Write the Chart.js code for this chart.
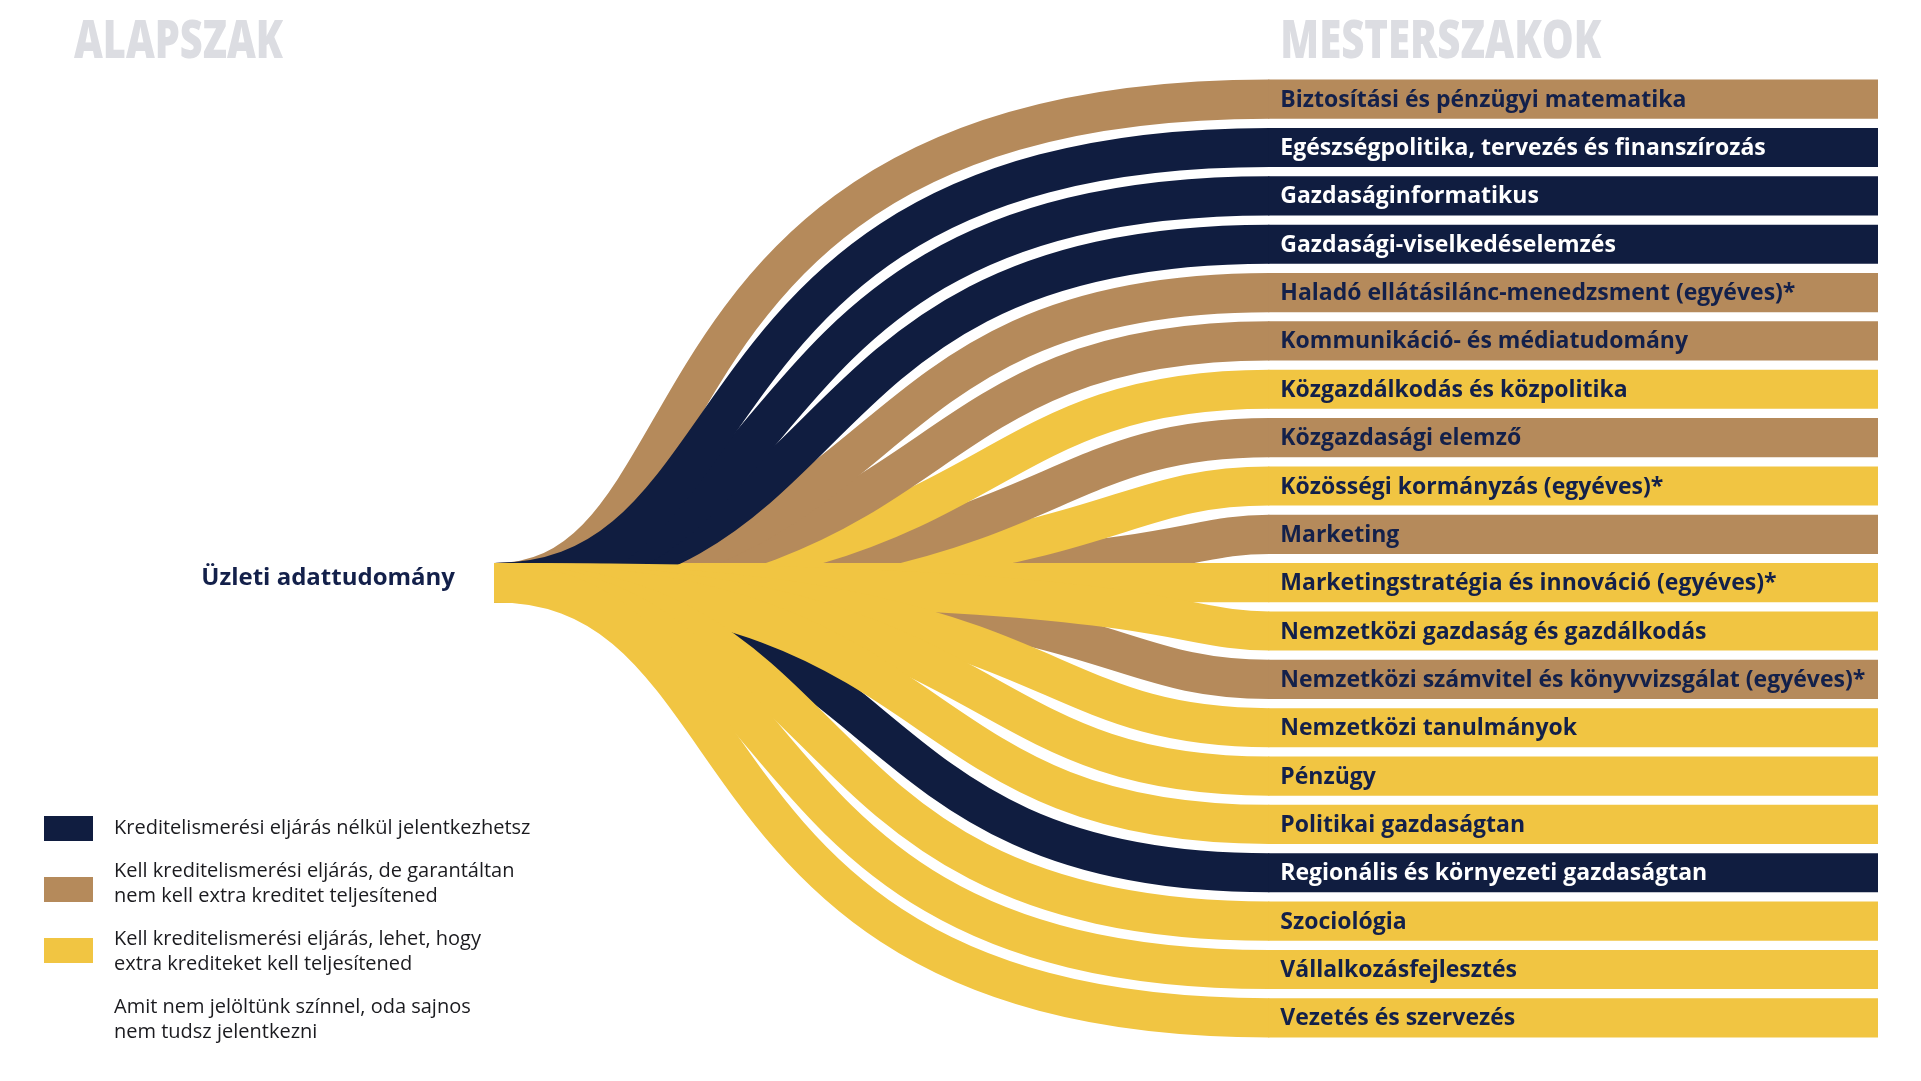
<!DOCTYPE html>
<html lang="hu">
<head>
<meta charset="utf-8">
<title>Alapszak – mesterszakok</title>
<script src="https://cdn.jsdelivr.net/npm/chart.js@4.4.1/dist/chart.umd.min.js"></script>
<style>
  html, body { margin: 0; padding: 0; background: #fff; }
  #wrap { width: 1921px; height: 1081px; }
</style>
</head>
<body>
<div id="wrap"><canvas id="canvas" width="1921" height="1081"></canvas></div>
<script>
// data
const source = "Üzleti adattudomány";
const programs = [
  "Biztosítási és pénzügyi matematika",
  "Egészségpolitika, tervezés és finanszírozás",
  "Gazdaságinformatikus",
  "Gazdasági-viselkedéselemzés",
  "Haladó ellátásilánc-menedzsment (egyéves)*",
  "Kommunikáció- és médiatudomány",
  "Közgazdálkodás és közpolitika",
  "Közgazdasági elemző",
  "Közösségi kormányzás (egyéves)*",
  "Marketing",
  "Marketingstratégia és innováció (egyéves)*",
  "Nemzetközi gazdaság és gazdálkodás",
  "Nemzetközi számvitel és könyvvizsgálat (egyéves)*",
  "Nemzetközi tanulmányok",
  "Pénzügy",
  "Politikai gazdaságtan",
  "Regionális és környezeti gazdaságtan",
  "Szociológia",
  "Vállalkozásfejlesztés",
  "Vezetés és szervezés",
];
// n = no credit procedure, g = procedure but guaranteed, e = procedure, maybe extra credits
const groups = ["g", "n", "n", "n", "g", "g", "e", "g", "e", "g",
                "e", "e", "g", "e", "e", "e", "n", "e", "e", "e"];
const weights = [1, 1, 1, 1, 1, 1, 1, 1, 1, 1, 1, 1, 1, 1, 1, 1, 1, 1, 1, 1];

const legendGroups = ["n", "g", "e", null];
const legendTexts = [
  ["Kreditelismerési eljárás nélkül jelentkezhetsz"],
  ["Kell kreditelismerési eljárás, de garantáltan", "nem kell extra kreditet teljesítened"],
  ["Kell kreditelismerési eljárás, lehet, hogy", "extra krediteket kell teljesítened"],
  ["Amit nem jelöltünk színnel, oda sajnos", "nem tudsz jelentkezni"],
];

const colors = { n: "#101d40", g: "#b58a5b", e: "#f1c542" };
const ink = "#13204a";
const titleGrey = "#dcdde2";
const FONT = "'Open Sans', 'Noto Sans', sans-serif";

// stacking of overlapping links: upper fan inner-to-outer, the straight link,
// navy over them, then the lower fan (navy, brown, yellow)
function layer(i, dy) {
  const g = groups[i];
  if (Math.abs(dy) < 1) return 2;
  if (dy < 0) return g === "n" ? 3 : 1;
  return g === "n" ? 4 : g === "g" ? 5 : 6;
}

const flowPlugin = {
  id: "flows",
  beforeDatasetsDraw(chart) {
    const { ctx, scales: { x, y } } = chart;
    const meta = chart.getDatasetMeta(0);
    const x0 = x.getPixelForValue(x.min);
    const x1 = x.getPixelForValue(0);
    const mid = Math.floor(programs.length / 2);
    const ys = y.getPixelForValue(mid);
    const step = y.getPixelForValue(1) - y.getPixelForValue(0);
    const nMax = Math.max(mid, programs.length - 1 - mid);

    const links = programs.map((p, i) => {
      const dy = meta.data[i].y - ys;
      return { i, dy, n: Math.min(nMax, Math.abs(dy) / step), z: layer(i, dy) };
    });
    links.sort((a, b) => a.z - b.z || a.n - b.n);

    ctx.save();
    ctx.lineCap = "butt";
    links.forEach(({ i, n }) => {
      const bar = meta.data[i];
      const yt = bar.y;
      // far targets bend early, near ones run flat and bend late
      const L = (x1 - x0) * Math.pow(n / nMax, 0.8);
      const s = x1 - L;
      ctx.beginPath();
      ctx.moveTo(x0, ys);
      ctx.bezierCurveTo(s + 0.304 * L, ys, s + 0.155 * L, yt, x1 + 1, yt);
      ctx.lineWidth = bar.height;
      ctx.strokeStyle = colors[groups[i]];
      ctx.stroke();
    });

    // source node
    const h = meta.data[mid].height;
    ctx.fillStyle = colors.e;
    ctx.fillRect(x0, ys - h / 2, 8, h);

    ctx.fillStyle = ink;
    ctx.font = "700 24px " + FONT;
    ctx.textAlign = "right";
    ctx.textBaseline = "alphabetic";
    ctx.fillText(source, x0 - 39, ys + 2);
    ctx.restore();
  },
  afterDatasetsDraw(chart) {
    const { ctx } = chart;
    const meta = chart.getDatasetMeta(0);
    ctx.save();
    ctx.font = "700 23px " + FONT;
    ctx.textAlign = "left";
    ctx.textBaseline = "middle";
    meta.data.forEach((bar, i) => {
      ctx.fillStyle = groups[i] === "n" ? "#ffffff" : ink;
      ctx.fillText(programs[i], bar.base + 12, bar.y + 1);
    });

    // column titles, squeezed to the narrow display face
    const title = (text, left, width) => {
      ctx.save();
      ctx.font = "800 53px " + FONT;
      ctx.fillStyle = titleGrey;
      ctx.textBaseline = "alphabetic";
      const w = ctx.measureText(text).width;
      ctx.translate(left, 58);
      ctx.scale(width / w, 1);
      ctx.fillText(text, 0, 0);
      ctx.restore();
    };
    title("ALAPSZAK", 74, 209);
    title("MESTERSZAKOK", meta.data[0].base + 12, 321);

    // legend
    const swatchTops = [816, 877, 938];
    const baselines = [834, 877, 945, 1013];
    ctx.font = "400 20px " + FONT;
    ctx.textBaseline = "alphabetic";
    legendTexts.forEach((lines, k) => {
      const g = legendGroups[k];
      if (g) {
        ctx.fillStyle = colors[g];
        ctx.fillRect(44, swatchTops[k], 49, 25);
      }
      ctx.fillStyle = "#1b1b1f";
      lines.forEach((line, j) => ctx.fillText(line, 114, baselines[k] + j * 24.5));
    });
    ctx.restore();
  },
};

new Chart("canvas", {
  type: "bar",
  data: {
    labels: programs,
    datasets: [{
      data: weights,
      backgroundColor: groups.map(g => colors[g]),
      barPercentage: 0.81,
      categoryPercentage: 1,
      borderWidth: 0,
    }],
  },
  options: {
    indexAxis: "y",
    responsive: false,
    animation: false,
    devicePixelRatio: 1,
    layout: { padding: { left: 494, right: 43, top: 75, bottom: 39 } },
    scales: {
      x: { type: "linear", min: -1.27, max: 1, display: false },
      y: { display: false },
    },
    plugins: { legend: { display: false }, tooltip: { enabled: false } },
  },
  plugins: [flowPlugin],
});
</script>
</body>
</html>
